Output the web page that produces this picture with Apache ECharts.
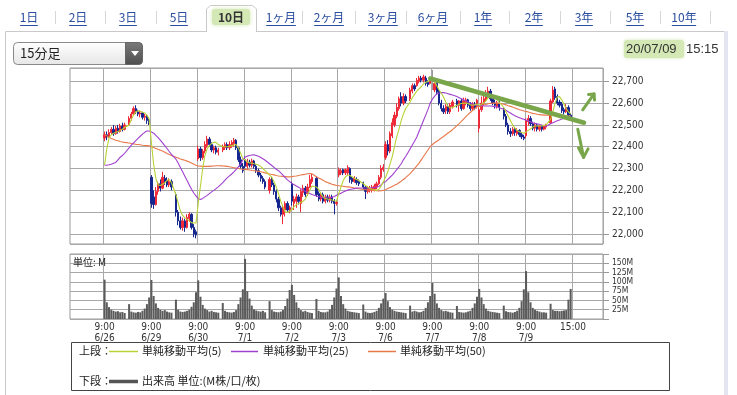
<!DOCTYPE html>
<html><head><meta charset="utf-8">
<script src="https://cdn.jsdelivr.net/npm/echarts@6/dist/echarts.min.js"></script>
<style>html,body{margin:0;padding:0;background:#fff;}#c{width:737px;height:395px;}</style>
</head><body><div id="c"></div>
<script>
// ---------------- DATA ----------------
const days = ['6/26','6/29','6/30','7/1','7/2','7/3','7/6','7/7','7/8','7/9'];
const sessionTimes = ['9:00','9:15','9:30','9:45','10:00','10:15','10:30','10:45','11:00','11:15',
                      '12:30','12:45','13:00','13:15','13:30','13:45','14:00','14:15','14:30','14:45'];
const dayStartTime = '9:00';
const closeTimeLabel = '15:00';

// [open, close, low, high] per 15-minute bar
const ohlc0626 = [[22440,22455,22425,22470],[22455,22445,22430,22470],[22445,22465,22440,22480],[22465,22480,22455,22490],[22480,22460,22450,22500],
[22460,22485,22455,22495],[22485,22470,22460,22500],[22470,22495,22465,22505],[22495,22480,22470,22510],[22480,22500,22475,22510],
[22500,22530,22495,22540],[22530,22550,22520,22560],[22550,22575,22545,22585],[22575,22560,22550,22590],[22560,22550,22540,22570],
[22550,22555,22535,22565],[22555,22535,22525,22560],[22535,22540,22520,22550],[22540,22520,22505,22545],[22520,22512,22500,22530]];
const ohlc0629 = [[22260,22140,22120,22270],[22170,22135,22115,22200],[22135,22195,22130,22215],[22195,22230,22180,22240],[22230,22210,22195,22250],
[22210,22260,22205,22285],[22255,22240,22225,22270],[22245,22225,22215,22260],[22225,22240,22215,22255],[22240,22215,22200,22250],
[22180,22100,22080,22190],[22100,22060,22040,22110],[22060,22030,22020,22080],[22030,22060,22015,22075],[22060,22030,22010,22070],
[22030,22075,22025,22090],[22070,22090,22055,22100],[22090,22030,22020,22095],[22030,22000,21985,22045],[22010,21995,21980,22020]];
const ohlc0630 = [[22345,22390,22335,22405],[22390,22350,22335,22400],[22350,22380,22340,22390],[22380,22410,22370,22425],[22405,22435,22395,22450],
[22435,22410,22400,22445],[22410,22385,22375,22420],[22385,22395,22370,22405],[22395,22375,22365,22405],[22375,22385,22360,22395],
[22385,22400,22375,22410],[22395,22410,22385,22420],[22410,22395,22385,22420],[22395,22410,22385,22425],[22405,22420,22395,22430],
[22415,22430,22400,22440],[22430,22395,22385,22435],[22395,22340,22330,22400],[22340,22310,22300,22355],[22310,22290,22280,22325]];
const ohlc0701 = [[22340,22310,22300,22355],[22310,22330,22300,22345],[22330,22315,22305,22340],[22315,22335,22305,22345],[22335,22310,22300,22340],
[22310,22290,22280,22320],[22290,22270,22260,22300],[22270,22255,22240,22280],[22255,22240,22230,22265],[22240,22215,22205,22250],
[22200,22250,22185,22260],[22250,22225,22215,22260],[22225,22195,22180,22235],[22195,22160,22145,22205],[22160,22120,22105,22170],
[22120,22090,22080,22130],[22090,22120,22045,22130],[22110,22140,22080,22150],[22140,22110,22100,22150],[22105,22121,22095,22130]];
const ohlc0702 = [[22230,22150,22130,22240],[22140,22160,22110,22175],[22150,22170,22120,22185],[22170,22150,22135,22180],[22140,22195,22100,22205],
[22190,22210,22170,22225],[22210,22180,22170,22220],[22185,22215,22175,22230],[22215,22250,22210,22270],[22240,22260,22230,22275],
[22255,22180,22170,22265],[22185,22160,22150,22195],[22160,22180,22150,22190],[22180,22150,22140,22190],[22150,22170,22140,22180],
[22170,22155,22145,22180],[22155,22170,22145,22180],[22170,22150,22140,22180],[22150,22140,22090,22160],[22140,22145,22130,22155]];
const ohlc0703 = [[22270,22295,22260,22305],[22280,22290,22270,22300],[22295,22280,22270,22300],[22280,22295,22270,22300],[22280,22305,22270,22315],
[22300,22250,22235,22305],[22255,22240,22230,22265],[22240,22255,22235,22265],[22250,22235,22225,22260],[22240,22230,22220,22250],
[22235,22215,22205,22240],[22215,22195,22160,22220],[22195,22210,22185,22220],[22200,22210,22190,22220],[22200,22215,22190,22225],
[22205,22220,22195,22230],[22215,22230,22205,22240],[22230,22260,22225,22270],[22260,22300,22250,22315],[22295,22306,22285,22320]];
const ohlc0706 = [[22350,22410,22340,22425],[22410,22380,22360,22430],[22380,22460,22370,22470],[22450,22510,22440,22530],[22500,22545,22490,22560],
[22540,22580,22530,22600],[22575,22620,22565,22630],[22630,22600,22585,22650],[22600,22630,22590,22645],[22630,22610,22600,22640],
[22620,22660,22610,22670],[22655,22680,22645,22690],[22680,22665,22655,22690],[22680,22705,22675,22715],[22700,22715,22690,22725],
[22715,22705,22695,22725],[22705,22720,22695,22730],[22715,22690,22680,22725],[22695,22685,22675,22705],[22690,22714,22685,22720]];
const ohlc0707 = [[22705,22705,22660,22752],[22660,22690,22650,22700],[22690,22650,22640,22700],[22655,22600,22590,22665],[22600,22575,22562,22615],
[22575,22560,22550,22590],[22565,22585,22550,22595],[22585,22560,22550,22595],[22560,22590,22550,22600],[22585,22605,22575,22615],
[22610,22590,22580,22620],[22590,22610,22560,22615],[22610,22575,22565,22620],[22575,22610,22570,22625],[22600,22615,22590,22625],
[22615,22590,22580,22620],[22595,22575,22565,22605],[22575,22595,22565,22605],[22595,22580,22570,22605],[22585,22614,22575,22620]];
const ohlc0708 = [[22485,22570,22465,22580],[22570,22600,22560,22630],[22600,22620,22590,22640],[22615,22640,22605,22660],[22640,22655,22625,22675],
[22655,22620,22610,22665],[22620,22600,22590,22630],[22600,22590,22575,22615],[22585,22600,22575,22610],[22600,22580,22565,22610],
[22575,22540,22525,22580],[22540,22500,22490,22550],[22500,22470,22455,22510],[22470,22460,22445,22485],[22460,22480,22450,22490],
[22480,22465,22450,22490],[22460,22475,22450,22485],[22475,22455,22445,22480],[22455,22445,22435,22465],[22445,22438,22430,22455]];
const ohlc0709 = [[22450,22520,22440,22530],[22515,22530,22495,22545],[22530,22505,22495,22540],[22505,22485,22475,22515],[22485,22500,22470,22510],
[22500,22480,22470,22505],[22480,22495,22470,22505],[22495,22480,22470,22500],[22480,22495,22475,22500],[22490,22500,22480,22505],
[22510,22610,22505,22620],[22605,22660,22600,22678],[22665,22625,22615,22675],[22630,22600,22590,22640],[22605,22590,22580,22615],
[22595,22565,22555,22605],[22570,22560,22548,22580],[22560,22580,22555,22595],[22580,22545,22538,22590],[22545,22529,22520,22555]];

// simple moving averages (20 bars per day)
const ma5 = [
22316,22390,22440,22455,22462,22465,22470,22475,22480,22488, 22500,22525,22545,22560,22565,22563,22558,22555,22545,22527,
22420,22320,22255,22225,22222,22228,22235,22245,22250,22235, 22180,22143,22105,22085,22075,22068,22060,22052,22050,22050,
22140,22220,22300,22360,22390,22405,22415,22420,22420,22410, 22400,22400,22400,22402,22405,22408,22410,22395,22370,22345,
22340,22330,22326,22325,22322,22320,22316,22310,22300,22290, 22270,22260,22240,22215,22185,22150,22125,22100,22100,22105,
22112,22125,22135,22140,22145,22150,22160,22180,22200,22220, 22215,22205,22185,22170,22162,22160,22158,22156,22152,22150,
22185,22215,22245,22262,22270,22268,22262,22255,22250,22245, 22230,22222,22215,22208,22205,22203,22200,22205,22220,22240,
22260,22285,22320,22355,22400,22445,22480,22520,22550,22575, 22605,22625,22640,22655,22665,22675,22688,22695,22700,22705,
22705,22695,22680,22660,22645,22628,22605,22585,22578,22580, 22590,22595,22598,22600,22600,22598,22592,22590,22592,22595,
22590,22595,22600,22610,22625,22637,22635,22628,22615,22605, 22580,22560,22540,22520,22500,22485,22475,22468,22465,22462,
22468,22475,22482,22490,22495,22495,22495,22495,22498,22500, 22525,22560,22600,22628,22630,22615,22595,22575,22560,22550];
const ma25 = [
22315,22315,22317,22320,22324,22328,22340,22352,22360,22370, 22395,22407,22418,22428,22438,22448,22458,22466,22472,22472,
22468,22462,22452,22442,22430,22418,22405,22392,22378,22365, 22343,22325,22305,22285,22265,22245,22225,22205,22188,22175,
22162,22158,22163,22170,22177,22185,22193,22200,22208,22216, 22235,22247,22257,22266,22275,22285,22296,22308,22320,22340,
22352,22357,22360,22362,22363,22360,22356,22351,22345,22338, 22322,22314,22305,22297,22290,22280,22270,22258,22248,22240,
22232,22226,22220,22214,22208,22202,22196,22191,22186,22181, 22174,22171,22168,22166,22165,22166,22167,22168,22172,22177,
22182,22187,22192,22197,22201,22204,22206,22208,22210,22211, 22211,22211,22211,22211,22212,22213,22215,22218,22225,22235,
22240,22250,22260,22270,22282,22295,22308,22322,22340,22355, 22390,22408,22425,22445,22470,22495,22520,22545,22570,22600,
22618,22632,22642,22646,22648,22648,22646,22643,22640,22637, 22630,22625,22620,22615,22610,22605,22600,22596,22592,22590,
22589,22588,22587,22587,22587,22587,22586,22584,22582,22579, 22572,22567,22560,22555,22548,22542,22537,22533,22529,22526,
22522,22518,22514,22510,22507,22505,22502,22499,22496,22494, 22505,22510,22515,22519,22523,22527,22530,22534,22537,22540];
const ma50 = [
22455,22450,22443,22438,22434,22430,22427,22424,22422,22420, 22417,22415,22413,22411,22410,22409,22407,22406,22405,22404,
22400,22396,22392,22388,22384,22380,22375,22369,22364,22360, 22352,22348,22344,22341,22338,22334,22330,22325,22320,22315,
22312,22311,22310,22310,22310,22310,22311,22312,22313,22313, 22312,22311,22310,22308,22306,22304,22302,22300,22298,22297,
22296,22295,22293,22291,22290,22289,22287,22285,22283,22280, 22275,22273,22271,22268,22266,22265,22264,22263,22262,22262,
22263,22265,22266,22268,22270,22272,22274,22276,22277,22276, 22262,22257,22252,22246,22240,22236,22232,22228,22225,22222,
22221,22220,22219,22217,22216,22215,22213,22211,22209,22207, 22204,22203,22202,22201,22200,22199,22198,22197,22198,22200,
22203,22208,22213,22218,22223,22228,22235,22242,22250,22258, 22277,22288,22300,22312,22325,22340,22355,22370,22385,22400,
22410,22418,22425,22432,22440,22447,22455,22463,22470,22478, 22497,22506,22516,22527,22538,22548,22557,22566,22575,22583,
22585,22588,22591,22594,22597,22599,22600,22600,22600,22599, 22595,22592,22588,22585,22582,22578,22574,22570,22567,22564,
22562,22559,22556,22553,22551,22549,22547,22546,22545,22545, 22545,22544,22544,22543,22543,22542,22542,22541,22541,22541];

// volume in millions
const volume = [
106,45,32,25,22,20,21,18,19,16, 40,20,18,17,19,18,22,28,40,58,
105,62,42,30,25,22,24,20,18,17, 52,25,20,19,20,22,25,33,45,72,
104,60,38,28,24,20,22,19,18,17, 43,22,19,18,17,19,24,40,58,80,
162,75,55,36,26,23,21,20,22,18, 48,24,20,19,18,20,24,35,55,78,
92,65,45,30,24,20,22,19,17,16, 54,22,19,18,18,20,26,38,58,82,
112,62,40,28,22,20,19,18,17,16, 39,20,17,16,17,19,22,30,42,55,
70,48,32,25,22,20,19,18,17,16, 36,20,22,20,18,19,22,30,45,62,
97,68,42,30,24,21,22,20,18,17, 35,19,18,17,18,20,22,30,42,60,
81,58,40,28,22,20,19,18,17,16, 36,21,19,18,17,19,22,30,48,80,
129,72,45,30,25,22,20,18,18,17, 41,24,22,22,21,22,23,24,52,81];

// hand-drawn annotation, in [category index, price]
const trendLine = [[161, 22713], [230, 22510]];
const upArrowShaft = [[229.4, 22569], [234.5, 22642]];
const upArrowHead = [[232.0, 22640], [234.5, 22642], [234.7, 22614]];
const downArrowShaft = [[227.2, 22480], [229.8, 22351]];
const downArrowHead = [[227.5, 22395], [229.8, 22351], [231.8, 22390]];

// page texts
const tabLabels = ['1日','2日','3日','5日','10日','1ヶ月','2ヶ月','3ヶ月','6ヶ月','1年','2年','3年','5年','10年'];
const selectedTab = 4;
const periodSelect = '15分足';
const lastDate = '20/07/09';
const lastTime = '15:15';
const volumeUnit = '単位: M';
const legendUpper = '上段：';
const legendLower = '下段：';
const maLabels = ['単純移動平均(5)','単純移動平均(25)','単純移動平均(50)'];
const volumeLabel = '出来高 単位:(M株/口/枚)';

// ---------------- BUILD ----------------
const PAD_LEFT = 15, PAD_RIGHT = 14, LUNCH_AT = 10, SLOTS = 21;
const allOhlc = [].concat(ohlc0626, ohlc0629, ohlc0630, ohlc0701, ohlc0702, ohlc0703, ohlc0706, ohlc0707, ohlc0708, ohlc0709);
const categories = [];
for (let i = 0; i < PAD_LEFT; i++) categories.push('pre' + i);
days.forEach(d => sessionTimes.forEach((t, s) => { if (s === LUNCH_AT) categories.push(d + ' lunch'); categories.push(d + ' ' + t); }));
for (let i = 0; i < PAD_RIGHT; i++) categories.push('post' + i);

function spread(flat, empty) {
  const out = [];
  for (let i = 0; i < PAD_LEFT; i++) out.push(empty);
  for (let d = 0; d < days.length; d++) for (let s = 0; s < 20; s++) { if (s === LUNCH_AT) out.push(empty); out.push(flat[d * 20 + s]); }
  for (let i = 0; i < PAD_RIGHT; i++) out.push(empty);
  return out;
}
const labelMap = new Map();
days.forEach((d, i) => labelMap.set(PAD_LEFT + i * SLOTS, dayStartTime + '\n' + d));
labelMap.set(PAD_LEFT + days.length * SLOTS, closeTimeLabel);
const atDayLine = (idx) => labelMap.has(idx);

const C_MA5 = '#b9d236', C_MA25 = '#a040d0', C_MA50 = '#e8784a';
const GRID_C = '#a8a8a8';
const AX_FONT = '"DejaVu Sans Condensed","DejaVu Sans",sans-serif';
const JP_FONT = '"Noto Sans CJK JP",sans-serif';

const option = {
  animation: false,
  backgroundColor: '#fff',
  textStyle: { fontFamily: AX_FONT },
  grid: [
    { left: 70, top: 68, width: 533, height: 176, show: true, borderColor: '#999', borderWidth: 1, backgroundColor: '#fff', containLabel: false, outerBoundsMode: 'none' },
    { left: 70, top: 254, width: 533, height: 65, show: true, borderColor: '#999', borderWidth: 1, backgroundColor: '#fff', containLabel: false, outerBoundsMode: 'none' }
  ],
  xAxis: [
    { type: 'category', gridIndex: 0, data: categories, boundaryGap: true,
      axisLine: { show: false }, axisTick: { show: false }, axisLabel: { show: false },
      splitLine: { show: true, interval: atDayLine, lineStyle: { color: GRID_C, width: 1 } } },
    { type: 'category', gridIndex: 1, data: categories, boundaryGap: true,
      axisLine: { show: false }, axisTick: { show: false },
      axisLabel: { show: true, interval: atDayLine, formatter: (v, i) => labelMap.get(i) || '', fontSize: 10, lineHeight: 11, color: '#333', margin: 3, fontFamily: AX_FONT },
      splitLine: { show: true, interval: atDayLine, lineStyle: { color: GRID_C, width: 1 } } }
  ],
  yAxis: [
    { type: 'value', gridIndex: 0, position: 'right', min: 21954, max: 22761, minInterval: 100, maxInterval: 100, splitNumber: 8,
      axisLine: { show: false }, axisTick: { show: true, length: 6, lineStyle: { color: '#999' } },
      axisLabel: { margin: 9, fontSize: 10, color: '#333', fontFamily: AX_FONT, showMinLabel: false, showMaxLabel: false,
        formatter: v => (Math.round(v) % 100 === 0 ? Math.round(v).toLocaleString('en-US') : '') },
      splitLine: { show: true, lineStyle: { color: GRID_C, width: 1 } } },
    { type: 'value', gridIndex: 1, position: 'right', min: 0, max: 175, interval: 25,
      axisLine: { show: false }, axisTick: { show: true, length: 6, lineStyle: { color: '#999' } },
      axisLabel: { margin: 9, fontSize: 8.5, color: '#333', fontFamily: AX_FONT, lineHeight: 9,
        formatter: v => (v === 0 || v === 175 ? '' : v + 'M') },
      splitLine: { show: true, lineStyle: { color: GRID_C, width: 1 } } }
  ],
  series: [
    { type: 'candlestick', xAxisIndex: 0, yAxisIndex: 0, data: spread(allOhlc, ['-','-','-','-']),
      barWidth: 1.8,
      itemStyle: { color: '#ee2a38', color0: '#16268f', borderColor: '#ee2a38', borderColor0: '#16268f', borderColorDoji: '#999', borderWidth: 1 } },
    { type: 'line', xAxisIndex: 0, yAxisIndex: 0, data: spread(ma50, '-'), showSymbol: false, connectNulls: true, lineStyle: { color: C_MA50, width: 1.1 }, z: 3 },
    { type: 'line', xAxisIndex: 0, yAxisIndex: 0, data: spread(ma25, '-'), showSymbol: false, connectNulls: true, lineStyle: { color: C_MA25, width: 1.1 }, z: 3 },
    { type: 'line', xAxisIndex: 0, yAxisIndex: 0, data: spread(ma5, '-'), showSymbol: false, connectNulls: true, lineStyle: { color: C_MA5, width: 1.1 }, z: 3 },
    { type: 'bar', xAxisIndex: 1, yAxisIndex: 1, data: spread(volume, '-'), barWidth: '90%', itemStyle: { color: '#5b5b5b' } }
  ],
  graphic: { elements: [] }
};

// --------- page decoration (layout) ---------
const els = [];
let gid = 0;
function add(el) { el.id = 'g' + (gid++); el.silent = true; if (el.z == null) el.z = 10; els.push(el); }
function text(x, y, str, st) {
  add({ type: 'text', x, y, style: Object.assign({ text: str, fill: '#222', font: '12px ' + JP_FONT, align: 'left', textAlign: 'left', verticalAlign: 'middle', textVerticalAlign: 'middle' }, st || {}) });
}
function line(x1, y1, x2, y2, stroke, w) { add({ type: 'line', shape: { x1, y1, x2, y2 }, style: { stroke, lineWidth: w || 1 } }); }
function rect(x, y, w, h, style, r) { add({ type: 'rect', shape: { x, y, width: w, height: h, r: r || 0 }, style }); }
function textWidth(str, font) { return new echarts.graphic.Text({ style: { text: str, font } }).getBoundingRect().width; }

// panel frame
const PANEL_C = '#c9c9c9';
const tabCenters = [29, 78, 128, 179, 231, 281, 329, 383, 433, 483, 534, 584, 635, 684];
const sepX = [55, 105, 156, 302, 355, 406, 460, 509, 560, 610, 660, 710];
line(5.5, 31.5, 206.5, 31.5, PANEL_C, 1);
line(256.5, 31.5, 724, 31.5, PANEL_C, 1);
line(5.5, 31.5, 5.5, 395, PANEL_C, 1);
rect(724, 31, 4, 364, { fill: '#e3e5f1' });
// selected tab
add({ type: 'polyline', shape: { points: [[206.5, 32], [206.5, 9], [210.5, 5.5], [252.5, 5.5], [256.5, 9], [256.5, 32]] }, style: { stroke: PANEL_C, fill: '#fff', lineWidth: 1 } });
rect(212, 9, 38, 16, { fill: '#d3e8b4', shadowBlur: 4, shadowColor: '#d3e8b4' }, 3);
const TAB_FONT = '12px ' + JP_FONT;
tabLabels.forEach((lab, i) => {
  const cx = tabCenters[i];
  if (i === selectedTab) {
    text(cx, 17.5, lab, { align: 'center', textAlign: 'center', fill: '#333', font: 'bold ' + TAB_FONT });
  } else {
    text(cx, 17.5, lab, { align: 'center', textAlign: 'center', fill: '#2a4d9e', font: TAB_FONT });
    const w = textWidth(lab, TAB_FONT);
    line(cx - w / 2 + 0.5, 25.5, cx + w / 2 - 0.5, 25.5, '#2a4d9e', 1);
  }
});
sepX.forEach(x => line(x + 0.5, 11, x + 0.5, 24, '#d6d6d6', 1));

// period dropdown
rect(13.5, 42.5, 129, 22, { fill: new echarts.graphic.LinearGradient(0, 0, 0, 1, [{ offset: 0, color: '#ffffff' }, { offset: 1, color: '#e6e6e6' }]), stroke: '#8a8a8a', lineWidth: 1 }, 4);
rect(125.5, 42.5, 17, 22, { fill: new echarts.graphic.LinearGradient(0, 0, 0, 1, [{ offset: 0, color: '#7a7a7a' }, { offset: 1, color: '#4e4e4e' }]), stroke: '#666', lineWidth: 1 }, [0, 4, 4, 0]);
add({ type: 'polygon', shape: { points: [[131, 51], [139, 51], [135, 56]] }, style: { fill: '#fff' } });
text(20, 53.5, periodSelect, { font: '13px ' + JP_FONT, fill: '#222' });

// last update
rect(624, 40, 60, 18, { fill: '#d3e8b4', shadowBlur: 3, shadowColor: '#d3e8b4' }, 3);
text(626, 49.5, lastDate, { font: '13px "Liberation Sans",sans-serif', fill: '#333' });
text(686, 49.5, lastTime, { font: '13px "Liberation Sans",sans-serif', fill: '#333' });

// volume unit
text(73, 262, volumeUnit, { font: '10px ' + JP_FONT, fill: '#222' });

// legend box
rect(71.5, 342.5, 598, 48, { fill: 'none', stroke: '#444', lineWidth: 1 });
const LG_FONT = '11px ' + JP_FONT;
text(79, 351, legendUpper, { font: LG_FONT });
line(109, 351.5, 138, 351.5, C_MA5, 1.5);
text(142, 351, maLabels[0], { font: LG_FONT });
line(231, 351.5, 258, 351.5, C_MA25, 1.5);
text(263, 351, maLabels[1], { font: LG_FONT });
line(368, 351.5, 396, 351.5, C_MA50, 1.5);
text(400, 351, maLabels[2], { font: LG_FONT });
text(79, 381, legendLower, { font: LG_FONT });
line(109, 381.5, 138, 381.5, '#555', 3.5);
text(142, 381, volumeLabel, { font: LG_FONT });

option.graphic.elements = els;

const chart = echarts.init(document.getElementById('c'), null, { renderer: 'canvas', width: 737, height: 395 });
chart.setOption(option);

// annotation drawn in data space
function toPx(p) {
  const i0 = Math.floor(p[0]), f = p[0] - i0;
  const a = chart.convertToPixel({ gridIndex: 0 }, [i0, p[1]]);
  const b = chart.convertToPixel({ gridIndex: 0 }, [i0 + 1, p[1]]);
  return [a[0] + (b[0] - a[0]) * f, a[1]];
}
const ANN_C = '#79a64b';
const ann = [];
function annLine(pts, w, id) {
  ann.push({ id, type: 'polyline', z: 20, silent: true, shape: { points: pts.map(toPx) }, style: { stroke: ANN_C, lineWidth: w, lineCap: 'round', lineJoin: 'round', fill: null } });
}
annLine(trendLine, 4.5, 'a0');
annLine(upArrowShaft, 3, 'a1');
annLine(upArrowHead, 3, 'a2');
annLine(downArrowShaft, 3, 'a3');
annLine(downArrowHead, 3, 'a4');
chart.setOption({ graphic: { elements: ann } });
</script></body></html>
